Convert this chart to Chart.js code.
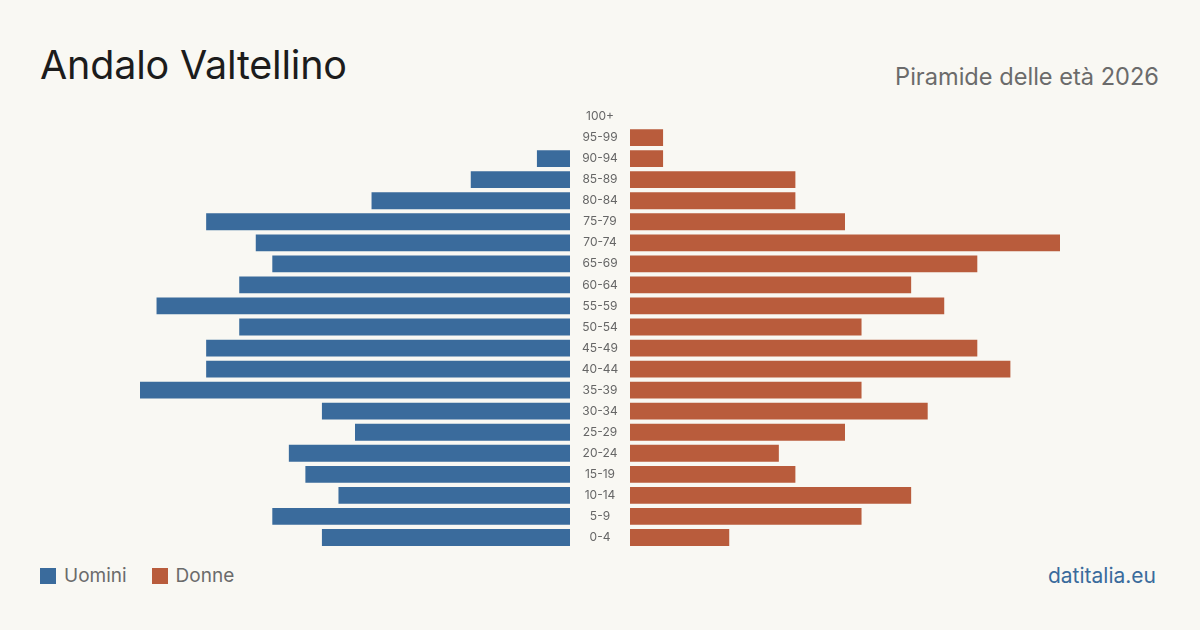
<!DOCTYPE html>
<html><head><meta charset="utf-8">
<script src="https://cdn.jsdelivr.net/npm/chart.js@4"></script>
<style>
html,body{margin:0;padding:0;}
body{width:1200px;height:630px;background:#f9f8f3;position:relative;overflow:hidden;font-family:Inter,"Noto Sans",sans-serif;}
#title{position:absolute;left:40px;top:41px;font-size:39.5px;color:#1c1c1c;font-weight:400;letter-spacing:-0.2px;}
#sub{position:absolute;right:41px;top:62px;font-size:23.6px;color:#6b6b6b;}
#lw{position:absolute;left:140px;top:106px;width:490px;height:442px;}
#rw{position:absolute;left:630px;top:106px;width:430px;height:442px;}
#legend{position:absolute;left:40px;top:564px;font-size:19px;color:#6b6b6b;display:flex;align-items:center;}
.sw{display:inline-block;width:16px;height:16px;margin-right:8px;}
.it{display:flex;align-items:center;margin-right:25px;}
#src{position:absolute;right:44px;top:563px;font-size:21px;color:#3a6b9c;}
</style></head>
<body>
<div id="title">Andalo Valtellino</div>
<div id="sub">Piramide delle età 2026</div>
<div id="lw"><canvas id="cl"></canvas></div>
<div id="rw"><canvas id="cr"></canvas></div>
<div id="legend"><span class="it"><span class="sw" style="background:#3a6b9c"></span>Uomini</span><span class="it"><span class="sw" style="background:#b95c3c"></span>Donne</span></div>
<div id="src">datitalia.eu</div>
<script>
const ageGroups = ["0-4","5-9","10-14","15-19","20-24","25-29","30-34","35-39","40-44","45-49","50-54","55-59","60-64","65-69","70-74","75-79","80-84","85-89","90-94","95-99","100+"];
const men = [15,18,14,16,17,13,15,26,22,22,20,25,20,18,19,22,12,6,2,0,0];
const women = [6,14,17,10,9,13,18,14,23,21,14,19,17,21,26,13,10,10,2,2,0];
const maxVal = 26;
const menColor = "#3a6b9c", womenColor = "#b95c3c";

const labelFont = {family:"Inter, 'Noto Sans', sans-serif", size:12};
const mctx = document.createElement('canvas').getContext('2d');
mctx.font = "12px Inter, 'Noto Sans', sans-serif";
const widest = Math.max(...ageGroups.map(s=>mctx.measureText(s).width));
const pad = 30 - widest/2;

const common = {
  responsive:true, maintainAspectRatio:false, animation:false,
  plugins:{legend:{display:false},tooltip:{enabled:false}},
  layout:{padding:0}
};
new Chart(document.getElementById('cl'), {
  type:'bar',
  data:{labels:ageGroups, datasets:[{label:'Uomini', data:men, backgroundColor:menColor, barPercentage:0.8, categoryPercentage:1}]},
  options:Object.assign({}, common, {
    indexAxis:'y',
    scales:{
      x:{display:false, reverse:true, min:0, max:maxVal},
      y:{position:'right', reverse:true, grid:{display:false, drawTicks:false, tickLength:0}, border:{display:false},
         ticks:{crossAlign:'center', padding:pad, color:'#666', font:labelFont, autoSkip:false},
         afterFit:(s)=>{s.width=60; s.paddingTop=0; s.paddingBottom=0;}}
    }
  })
});
new Chart(document.getElementById('cr'), {
  type:'bar',
  data:{labels:ageGroups, datasets:[{label:'Donne', data:women, backgroundColor:womenColor, barPercentage:0.8, categoryPercentage:1}]},
  options:Object.assign({}, common, {
    indexAxis:'y',
    scales:{
      x:{display:false, min:0, max:maxVal},
      y:{display:false, reverse:true}
    }
  })
});
</script>
</body></html>
